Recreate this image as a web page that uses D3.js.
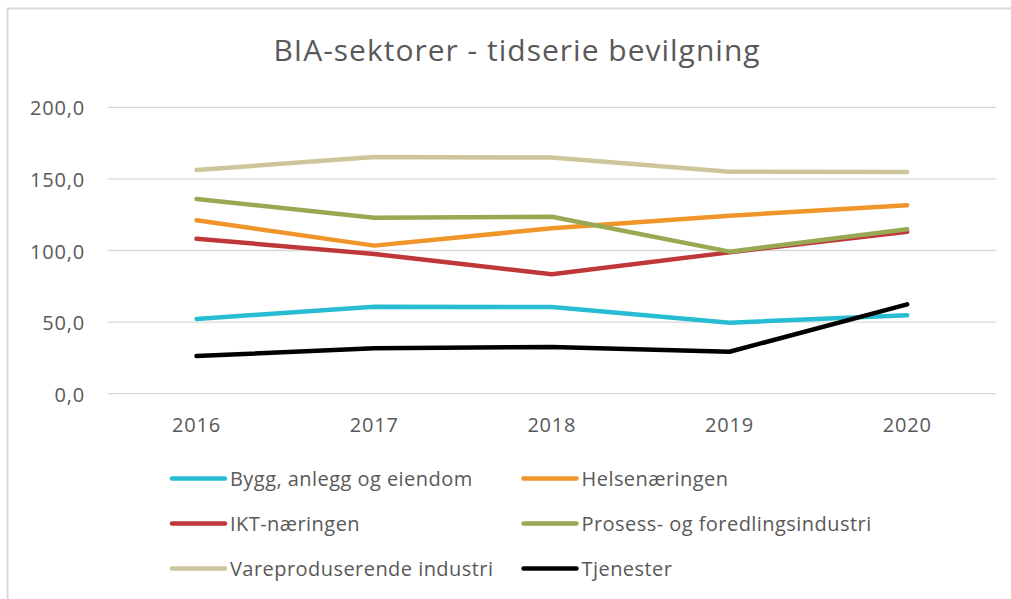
<!DOCTYPE html>
<html>
<head>
<meta charset="utf-8">
<script src="https://cdn.jsdelivr.net/npm/d3@7"></script>
<style>
  html, body { margin: 0; padding: 0; background: #fff; }
  svg { display: block; }
  text { font-family: "Open Sans", sans-serif; fill: #595959; }
</style>
</head>
<body>
<svg id="chart" width="1011" height="599"></svg>
<script>
// data
const years = ["2016", "2017", "2018", "2019", "2020"];
const seriesNames = [
  "Bygg, anlegg og eiendom",
  "Helsenæringen",
  "IKT-næringen",
  "Prosess- og foredlingsindustri",
  "Vareproduserende industri",
  "Tjenester"
];
const bygg      = [52.2, 60.8, 60.5, 49.6, 54.7];
const helse     = [121.1, 103.4, 115.5, 124.3, 131.6];
const ikt       = [108.2, 97.6, 83.4, 98.7, 113.1];
const prosess   = [136.0, 122.9, 123.6, 99.2, 114.8];
const vare      = [156.2, 165.3, 164.9, 155.0, 154.8];
const tjenester = [26.3, 31.7, 32.6, 29.3, 62.4];
const yTicks = [0, 50, 100, 150, 200];

const colors = ["#26bdd3", "#f0952a", "#c0373a", "#98a853", "#cec59a", "#000000"];
const values = [bygg, helse, ikt, prosess, vare, tjenester];

const svg = d3.select("#chart");

// ramme rundt diagrammet
svg.append("rect")
  .attr("x", 7.5).attr("y", 8.5)
  .attr("width", 1020).attr("height", 620)
  .attr("fill", "none")
  .attr("stroke", "#d9d9d9")
  .attr("stroke-width", 2);

// tittel
svg.append("text")
  .attr("x", 517).attr("y", 61)
  .attr("text-anchor", "middle")
  .style("font-size", "30px")
  .style("letter-spacing", "1px")
  .text("BIA-sektorer - tidserie bevilgning");

const x = d3.scaleBand().domain(years).range([107.7, 996]);
const y = d3.scaleLinear().domain([0, 200]).range([393.7, 107.3]);

// rutenett
svg.append("g")
  .selectAll("line")
  .data(yTicks)
  .join("line")
  .attr("x1", 107.7).attr("x2", 996)
  .attr("y1", d => y(d)).attr("y2", d => y(d))
  .attr("stroke", "#d9d9d9")
  .attr("stroke-width", 1.3);

// y-akse
const yAxis = svg.append("g")
  .attr("transform", "translate(85,0)")
  .call(d3.axisLeft(y).tickValues(yTicks).tickSize(0).tickPadding(0)
    .tickFormat(d => d3.format(".1f")(d).replace(".", ",")));
yAxis.select(".domain").remove();
yAxis.selectAll("text")
  .style("font-size", "20px")
  .style("letter-spacing", "0.8px")
  .style("font-family", "'Open Sans', sans-serif")
  .attr("fill", "#595959")
  .attr("dy", "0.38em");

// x-akse
const xAxis = svg.append("g")
  .attr("transform", "translate(0,394)")
  .call(d3.axisBottom(x).tickSize(0).tickPadding(0));
xAxis.select(".domain").remove();
xAxis.selectAll("text")
  .style("font-size", "20px")
  .style("letter-spacing", "0.8px")
  .style("font-family", "'Open Sans', sans-serif")
  .attr("fill", "#595959")
  .attr("y", 0)
  .attr("dy", "1.9em");

// linjer
const line = d3.line()
  .x((d, i) => x(years[i]) + x.bandwidth() / 2)
  .y(d => y(d));

svg.append("g")
  .selectAll("path")
  .data(values)
  .join("path")
  .attr("d", line)
  .attr("fill", "none")
  .attr("stroke", (d, i) => colors[i])
  .attr("stroke-width", 4.5)
  .attr("stroke-linecap", "round")
  .attr("stroke-linejoin", "round");

// tegnforklaring
const legendCols = [172, 523.5];
const legendRows = [478.5, 523.5, 568.5];
const legend = svg.append("g")
  .selectAll("g")
  .data(seriesNames)
  .join("g")
  .attr("transform", (d, i) => `translate(${legendCols[i % 2]},${legendRows[Math.floor(i / 2)]})`);

legend.append("line")
  .attr("x1", 0).attr("x2", 53)
  .attr("stroke", (d, i) => colors[i])
  .attr("stroke-width", 4.5)
  .attr("stroke-linecap", "round");

legend.append("text")
  .attr("x", 58)
  .attr("dy", "0.35em")
  .style("font-size", "20px")
  .style("letter-spacing", "0.45px")
  .text(d => d);
</script>
</body>
</html>
